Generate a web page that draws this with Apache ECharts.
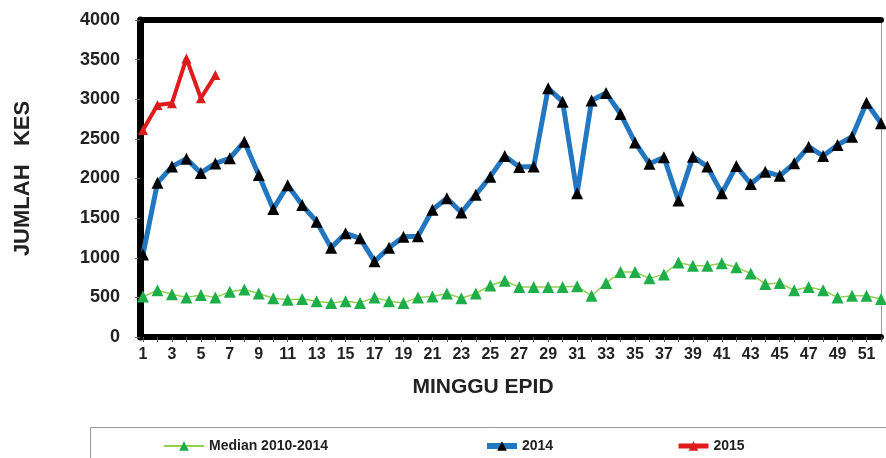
<!DOCTYPE html>
<html>
<head>
<meta charset="utf-8">
<script src="https://cdn.jsdelivr.net/npm/echarts@6/dist/echarts.min.js"></script>
<style>
  html, body { margin: 0; padding: 0; background: #fff; }
  #chart { width: 886px; height: 458px; }
</style>
</head>
<body>
<div id="chart"></div>
<script>
// minggu epidemiologi 1..52
const weeks = ['1', '2', '3', '4', '5', '6', '7', '8', '9', '10',
  '11', '12', '13', '14', '15', '16', '17', '18', '19', '20',
  '21', '22', '23', '24', '25', '26', '27', '28', '29', '30',
  '31', '32', '33', '34', '35', '36', '37', '38', '39', '40',
  '41', '42', '43', '44', '45', '46', '47', '48', '49', '50',
  '51', '52'];

const median = [510, 590, 540, 500, 530, 500, 570, 600, 550, 490,
  470, 480, 450, 430, 450, 430, 500, 450, 430, 500,
  510, 550, 490, 550, 650, 710, 630, 630, 630, 630,
  640, 520, 680, 820, 820, 740, 790, 940, 900, 900,
  930, 880, 800, 670, 680, 590, 630, 590, 500, 520,
  520, 480];

const kes2014 = [1040, 1945, 2150, 2250, 2070, 2190, 2255, 2465, 2045, 1615,
  1915, 1665, 1455, 1125, 1308, 1245, 955, 1125, 1266, 1270,
  1605, 1750, 1570, 1795, 2023, 2285, 2145, 2150, 3138, 2970,
  1813, 2985, 3080, 2814, 2455, 2185, 2268, 1722, 2276, 2150,
  1815, 2157, 1930, 2086, 2034, 2192, 2402, 2284, 2423, 2528,
  2955, 2697];

const kes2015 = [2612, 2928, 2950, 3515, 3012, 3305];

const font = "'Liberation Sans', Arial, sans-serif";
const legendText = { color: '#222', fontFamily: font, fontWeight: 'bold', fontSize: 14 };

let myecharts = echarts.init(document.getElementById('chart'));
myecharts.setOption({
  animation: false,
  grid: {
    left: 143,
    right: 5,
    top: 20,
    bottom: 121,
  },
  xAxis: [
    {
      type: 'category',
      data: weeks,
      boundaryGap: false,
      position: 'bottom',
      axisLine: { onZero: false, lineStyle: { color: '#000', width: 6 } },
      axisTick: { show: true, interval: 0, length: 5, lineStyle: { color: '#555' } },
      axisLabel: {
        interval: 1,
        color: '#222',
        fontFamily: font,
        fontWeight: 'bold',
        fontSize: 16,
        margin: 10,
      },
      name: 'MINGGU EPID',
      nameLocation: 'middle',
      nameGap: 40,
      nameTextStyle: {
        color: '#222',
        fontFamily: font,
        fontWeight: 'bold',
        fontSize: 21,
        padding: [0, 58, 0, 0],
      },
    },
    {
      type: 'category',
      data: weeks,
      boundaryGap: false,
      position: 'top',
      axisLine: { onZero: false, lineStyle: { color: '#000', width: 6 } },
      axisTick: { show: false },
      axisLabel: { show: false },
    },
  ],
  yAxis: [
    {
      type: 'value',
      min: 0,
      max: 4000,
      interval: 500,
      offset: 3,
      splitLine: { show: false },
      axisLine: { show: true, lineStyle: { color: '#000', width: 7 } },
      axisTick: { show: true, length: 5, lineStyle: { color: '#666' } },
      axisLabel: {
        color: '#222',
        fontFamily: font,
        fontWeight: 'bold',
        fontSize: 18,
        margin: 20,
        formatter: (v) => String(v),
      },
      name: 'JUMLAH   KES',
      nameLocation: 'middle',
      nameGap: 106,
      nameTextStyle: {
        color: '#222',
        fontFamily: font,
        fontWeight: 'bold',
        fontSize: 22,
      },
    },
    {
      type: 'value',
      position: 'right',
      min: 0,
      max: 4000,
      splitLine: { show: false },
      axisLine: { show: true, lineStyle: { color: '#999', width: 1 } },
      axisTick: { show: false },
      axisLabel: { show: false },
    },
  ],
  legend: [
    {
      data: ['Median 2010-2014'],
      left: 158,
      top: 434,
      itemWidth: 40,
      itemHeight: 12,
      lineStyle: { width: 2 },
      textStyle: legendText,
    },
    {
      data: ['2014'],
      left: 479,
      top: 434,
      itemWidth: 30,
      itemHeight: 12,
      lineStyle: { width: 6 },
      textStyle: legendText,
    },
    {
      data: ['2015'],
      left: 671,
      top: 434,
      itemWidth: 30,
      itemHeight: 12,
      lineStyle: { width: 5 },
      textStyle: legendText,
    },
  ],
  graphic: [
    {
      // kotak legend
      type: 'rect',
      left: 88,
      top: 425,
      shape: { width: 830, height: 60 },
      style: { fill: 'none', stroke: '#999', lineWidth: 1 },
    },
  ],
  series: [
    {
      name: 'Median 2010-2014',
      type: 'line',
      data: median,
      symbol: 'triangle',
      symbolSize: 12,
      showAllSymbol: true,
      lineStyle: { color: '#92D050', width: 1.5 },
      itemStyle: { color: '#1DAE4A' },
      z: 2,
    },
    {
      name: '2014',
      type: 'line',
      data: kes2014,
      symbol: 'triangle',
      symbolSize: 12,
      showAllSymbol: true,
      lineStyle: { color: '#2377C0', width: 5 },
      itemStyle: { color: '#000' },
      z: 3,
    },
    {
      name: '2015',
      type: 'line',
      data: kes2015,
      symbol: 'triangle',
      symbolSize: 10,
      showAllSymbol: true,
      lineStyle: { color: '#E01B1B', width: 4 },
      itemStyle: { color: '#D91C1C' },
      z: 4,
    },
  ],
});
</script>
</body>
</html>
